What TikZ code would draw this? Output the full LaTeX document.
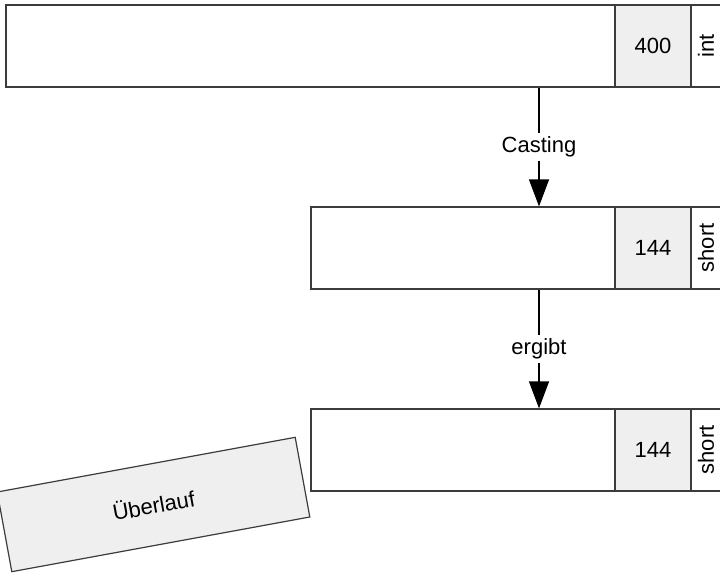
\documentclass[tikz,border=0pt]{standalone}
\usepackage{fontspec}
\setmainfont{Liberation Sans}
\usetikzlibrary{arrows.meta}
\definecolor{edge}{HTML}{3C3C3C}
\definecolor{cellgray}{HTML}{EFEFEF}
\begin{document}
\begin{tikzpicture}[x=1pt,y=-1pt,
  font=\fontsize{22}{25}\selectfont,
  cell/.style={draw=edge,line width=1.2pt,fill=white,minimum height=82pt,inner sep=0pt},
  valcell/.style={cell,fill=cellgray,minimum width=76pt},
  typecell/.style={cell,minimum width=30pt},
  typelabel/.style={rotate=90,inner sep=0pt},
  conn/.style={line width=1.2pt,draw=black,-{Triangle[width=20pt,length=27pt]}},
  connlabel/.style={fill=white,inner sep=4pt,midway}]
\useasboundingbox (0,0) rectangle (720,573);

% int value
\node[cell,minimum width=609pt] (m1) at (310.5,46) {};
\node[valcell] (v1) at (653,46) {400};
\node[typecell] (t1) at (706,46) {};
\node[typelabel] (l1) at (t1.center) {int};

% short value after casting
\node[cell,minimum width=304pt] (m2) at (463,248) {};
\node[valcell] (v2) at (653,248) {144};
\node[typecell] (t2) at (706,248) {};
\node[typelabel] (l2) at (t2.center) {short};

% resulting short value
\node[cell,minimum width=304pt] (m3) at (463,450) {};
\node[valcell] (v3) at (653,450) {144};
\node[typecell] (t3) at (706,450) {};
\node[typelabel] (l3) at (t3.center) {short};

% overflow tag
\node[draw=edge,line width=1.2pt,fill=cellgray,minimum width=303pt,minimum height=81pt,
      rotate=10.4,inner sep=0pt] (ov) at (153.5,504.5) {Überlauf};

% connectors
\coordinate (cx) at (539,0);
\draw[conn] (m1.south -| cx) -- node[connlabel] (cast) {Casting} (m2.north -| cx);
\draw[conn] (m2.south -| cx) -- node[connlabel] (res) {ergibt} (m3.north -| cx);
\end{tikzpicture}
\end{document}
